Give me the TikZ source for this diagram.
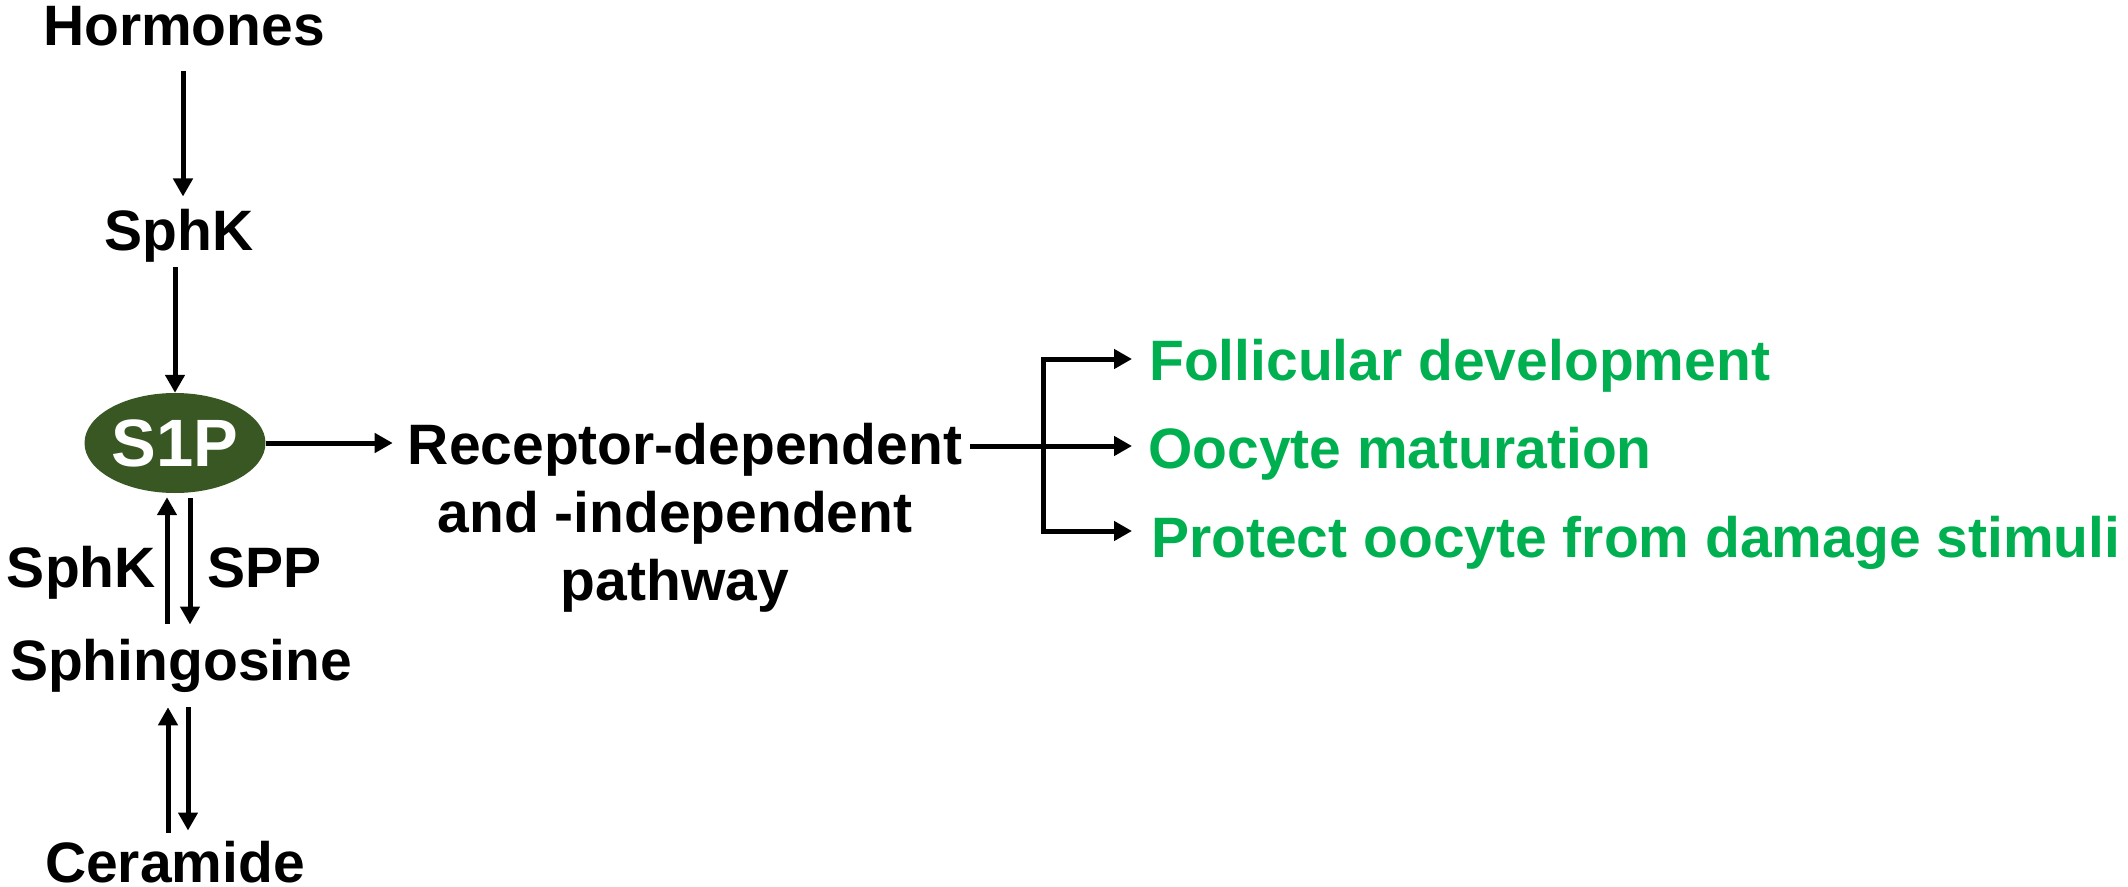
\documentclass[tikz,border=0pt]{standalone}
\usepackage{fontspec}
\setmainfont{Liberation Sans}
\usetikzlibrary{arrows.meta,shapes.geometric}
\definecolor{olive}{RGB}{56,87,35}
\definecolor{effgreen}{RGB}{0,176,80}
\begin{document}
\begin{tikzpicture}[x=1pt,y=-1pt,
  lbl/.style={font=\bfseries\fontsize{57pt}{68pt}\selectfont, inner sep=0pt, text=black},
  eff/.style={lbl, text=effgreen},
  s1pnode/.style={ellipse, fill=olive, minimum width=181pt, minimum height=100pt, inner sep=0pt,
     text=white, font=\bfseries\fontsize{67pt}{80pt}\selectfont},
  arr/.style={line width=5pt, -{Triangle[length=18pt,width=19pt]}},
  plain/.style={line width=5pt}]
\useasboundingbox (0,0) rectangle (2128,886);

\node[lbl, anchor=base] (hormones) at (184,45) {Hormones};
\node[lbl, anchor=base] (sphk) at (179,250) {SphK};
\node[s1pnode] (s1p) at (175,443) {S1P};
\node[lbl, anchor=base] (sph) at (181,680) {Sphingosine};
\node[lbl, anchor=base] (cer) at (175,882) {Ceramide};
\node[lbl, anchor=base east] (sphk2) at (156,587) {SphK};
\node[lbl, anchor=base west] (spp) at (207,587) {SPP};
\node[lbl, align=center, anchor=center] (rec) at (685,518)
  {Receptor-dependent\\and -independent\kern20pt\\pathway\kern20pt};
\node[eff, anchor=base west] (fol) at (1149,380) {Follicular development};
\node[eff, anchor=base west] (ooc) at (1148,468) {Oocyte maturation};
\node[eff, anchor=base west] (pro) at (1151,557) {Protect oocyte from damage stimuli};
\coordinate (br) at (1043,446);

% vertical chain
\draw[arr] ([yshift=-25pt]hormones.south -| 183,0) -- ([yshift=12pt]sphk.north -| 183,0);
\draw[arr] ([yshift=-5pt]sphk.south -| s1p.north) -- (s1p.north);
% S1P <-> Sphingosine
\draw[arr] ([xshift=-8pt,yshift=15pt]s1p.south |- sph.north) -- ([xshift=-8pt,yshift=-4pt]s1p.south);
\draw[arr] ([xshift=15pt,yshift=-5pt]s1p.south) -- ([xshift=15pt,yshift=14pt]s1p.south |- sph.north);
% Sphingosine <-> Ceramide
\draw[arr] ([xshift=-7pt,yshift=8pt]s1p.south |- cer.north) -- ([xshift=-7pt,yshift=-15pt]s1p.south |- sph.south);
\draw[arr] ([xshift=13pt,yshift=-15pt]s1p.south |- sph.south) -- ([xshift=13pt,yshift=10pt]s1p.south |- cer.north);
% S1P -> pathway
\draw[arr] (s1p.east) -- ([xshift=-15pt]rec.west |- s1p.east);
% pathway -> effects
\draw[arr] ([xshift=8pt]rec.east |- br) -- ([xshift=-16pt]ooc.base west |- br);
\draw[arr] (br) |- ([xshift=-17pt,yshift=21pt]fol.base west);
\draw[arr] (br) |- ([xshift=-19pt,yshift=26pt]pro.base west);
\end{tikzpicture}
\end{document}
